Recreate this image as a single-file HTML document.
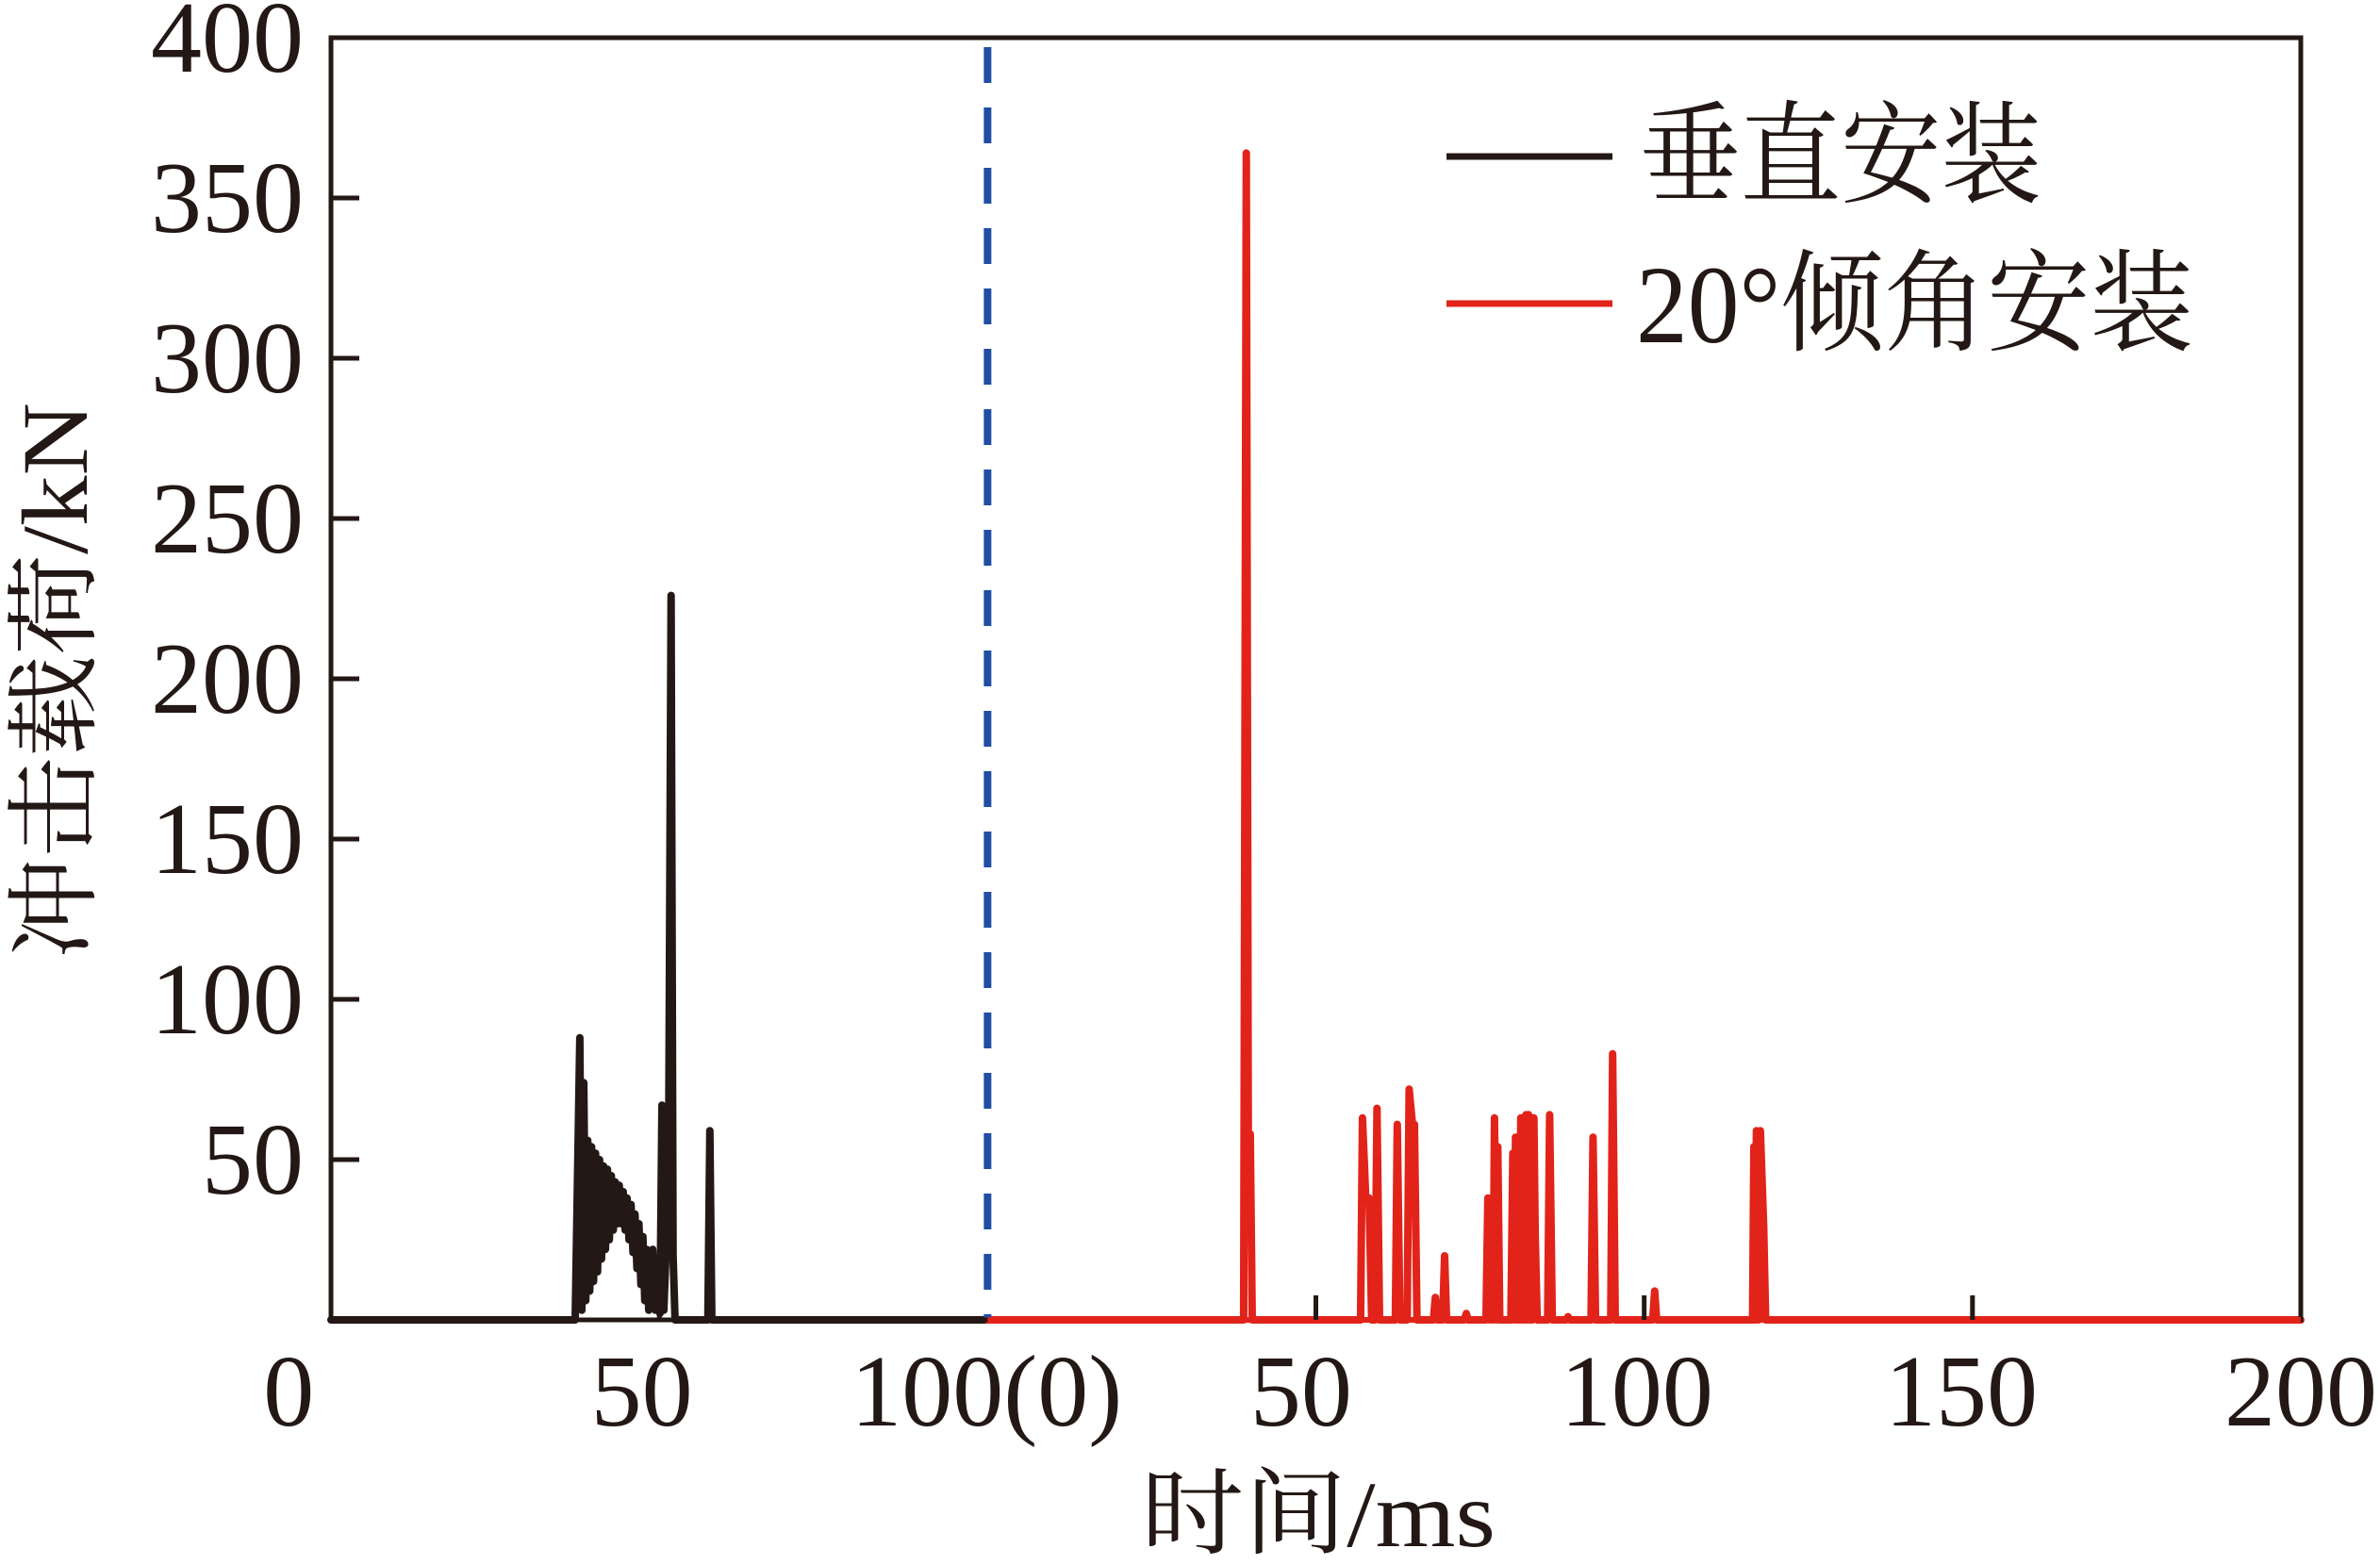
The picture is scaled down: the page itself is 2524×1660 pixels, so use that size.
<!DOCTYPE html>
<html><head><meta charset="utf-8"><style>
html,body{margin:0;padding:0;background:#fff;}
svg{display:block;}
text{font-family:"Liberation Serif","Noto Serif CJK SC",serif;fill:#231815;}
</style></head><body>
<svg id="chart" width="2524" height="1660" viewBox="0 0 2524 1660" xmlns="http://www.w3.org/2000/svg">
<g id="marks"></g>
<g id="axes"></g>
<g>
  <line x1="1534" y1="166" x2="1710" y2="166" stroke="#231815" stroke-width="7"/>
  <text x="1739" y="206" font-size="118" textLength="426" lengthAdjust="spacingAndGlyphs">垂直安装</text>
  <line x1="1534" y1="322" x2="1710" y2="322" stroke="#e2231a" stroke-width="7"/>
  <text x="1735" y="363" font-size="118" textLength="591" lengthAdjust="spacingAndGlyphs">20°倾角安装</text>
</g>
<text x="1398" y="1640" font-size="100" text-anchor="middle" textLength="376" lengthAdjust="spacingAndGlyphs">时间/ms</text>
<text transform="translate(92,722) rotate(-90)" font-size="100" text-anchor="middle" textLength="590" lengthAdjust="spacingAndGlyphs">冲击载荷/kN</text>
</svg>
<script>
const xTickValues = [0, 50, 100, 150, 200, 250, 300];
const xTickLabels = ["0", "50", "100(0)", "50", "100", "150", "200"];
const yTickValues = [50, 100, 150, 200, 250, 300, 350, 400];
const yTickLabels = ["50", "100", "150", "200", "250", "300", "350", "400"];
const dividerTime = 100;
const blackT = [0, 37.2, 37.9, 38.2, 38.5, 38.8, 39.1, 39.4, 39.7, 40.0, 40.3, 40.6, 40.9, 41.2, 41.5, 41.8, 42.1, 42.4, 42.7, 43.0, 43.3, 43.6, 43.9, 44.2, 44.5, 44.8, 45.1, 45.4, 45.7, 46.0, 46.3, 46.6, 46.9, 47.2, 47.5, 47.8, 48.1, 48.4, 48.7, 49.0, 49.4, 49.8, 50.1, 50.4, 50.7, 51.1, 51.4, 51.8, 52.1, 52.4, 57.4, 57.7, 58.0, 100];
const blackV = [0, 0, 88, 3, 74, 6, 56, 9, 54, 12, 52, 15, 50, 19, 48, 22, 47, 25, 45, 28, 43, 30, 42, 30, 40, 28, 38, 25, 36, 21, 33, 16, 30, 11, 26, 6, 22, 3, 18, 22, 3, 10, 2, 67, 3, 25, 40, 226, 20, 0, 0, 59, 0, 0];
const redT = [100, 139.0, 139.4, 139.7, 140.0, 140.3, 156.8, 157.1, 157.6, 158.1, 158.5, 159.0, 159.3, 159.7, 162.1, 162.4, 162.8, 163.9, 164.2, 164.7, 165.0, 165.4, 167.9, 168.2, 168.5, 169.3, 169.6, 169.9, 172.6, 172.9, 173.2, 175.9, 176.2, 176.5, 176.8, 177.0, 177.2, 177.5, 177.7, 178.0, 179.7, 180.0, 180.2, 180.4, 180.6, 180.8, 181.0, 181.2, 181.4, 181.6, 181.8, 182.0, 182.2, 182.4, 182.6, 182.8, 183.0, 183.2, 183.4, 183.7, 185.3, 185.6, 186.0, 188.1, 188.4, 188.7, 191.9, 192.2, 192.6, 194.9, 195.2, 195.6, 201.3, 201.6, 201.9, 216.5, 216.7, 216.9, 217.1, 217.4, 217.7, 218.2, 218.5, 300];
const redV = [0, 0, 364, 58, 58, 0, 0, 63, 38, 38, 0, 0, 66, 0, 0, 61, 0, 0, 72, 61, 61, 0, 0, 7, 0, 0, 20, 0, 0, 2, 0, 0, 38, 0, 38, 0, 63, 0, 54, 0, 0, 52, 0, 57, 0, 57, 0, 63, 0, 63, 0, 64, 0, 64, 0, 63, 0, 63, 26, 0, 0, 64, 0, 0, 1, 0, 0, 57, 0, 0, 83, 0, 0, 9, 0, 0, 54, 0, 59, 0, 59, 29, 0, 0];

const L = 351, R = 2440, T = 40, B = 1400;
const xMax = 300, yMax = 400;
function xs(t){ return L + t / xMax * (R - L); }
function ys(v){ return B - v / yMax * (B - T); }
const NS = "http://www.w3.org/2000/svg";
const marks = document.getElementById('marks');
const axes = document.getElementById('axes');
function mk(tag, attrs, parent){
  const e = document.createElementNS(NS, tag);
  for (const k in attrs) e.setAttribute(k, attrs[k]);
  parent.appendChild(e);
  return e;
}
function pts(ts, vs){ return ts.map((t,i)=> xs(t).toFixed(1)+","+ys(vs[i]).toFixed(1)).join(" "); }

const bl = mk('polyline', {points: pts(blackT, blackV), fill:'none', stroke:'#231815', 'stroke-width':8, 'stroke-linejoin':'round', 'stroke-linecap':'round'}, marks);


const rl = mk('polyline', {points: pts(redT, redV), fill:'none', stroke:'#e2231a', 'stroke-width':8, 'stroke-linejoin':'round', 'stroke-linecap':'round'}, marks);


const dv = mk('line', {x1: xs(dividerTime), y1: ys(400)+10, x2: xs(dividerTime), y2: ys(0), stroke:'#1f4ea3', 'stroke-width':8, 'stroke-dasharray':'38,26'}, marks);



const frame = mk('rect', {x:L, y:T, width:R-L, height:B-T, fill:'none', stroke:'#231815', 'stroke-width':5}, axes);


const rb = mk('line', {x1: xs(100), y1: ys(0), x2: xs(300), y2: ys(0), stroke:'#e2231a', 'stroke-width':6}, axes);



const xLabelX = [295, 676, 1046, 1376, 1734, 2077, 2440];
xTickValues.forEach((t,i)=>{
  if (t > 0 && t < xMax && t !== dividerTime) {
    const tk = mk('line', {x1: xs(t), y1: B, x2: xs(t), y2: B-26, stroke:'#231815', 'stroke-width':5}, axes);
    
    
  }
  const lb = mk('text', {x: xs(t) + (xLabelX[i] - xs(t)) * 0.8, y: 1512, 'font-size':108, 'text-anchor':'middle'}, axes);
  lb.textContent = xTickLabels[i];
  
  
});
yTickValues.forEach((v,i)=>{
  if (v < yMax) {
    const tk = mk('line', {x1: L, y1: ys(v), x2: L+30, y2: ys(v), stroke:'#231815', 'stroke-width':5}, axes);
    
    
  }
  const lb = mk('text', {x: 322, y: ys(v) + 36, 'font-size':108, 'text-anchor':'end'}, axes);
  lb.textContent = yTickLabels[i];
  
  
});
</script>
</body></html>
